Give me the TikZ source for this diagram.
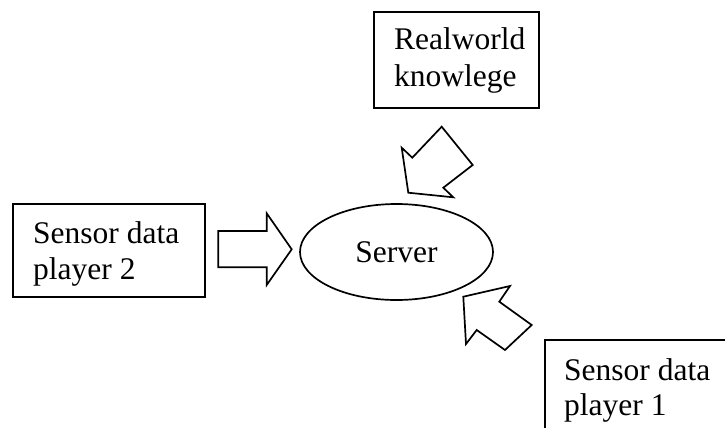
\documentclass[tikz,border=0pt]{standalone}
\usepackage{fontspec}
\setmainfont{Liberation Serif}
\usetikzlibrary{shapes.geometric}
\begin{document}
\begin{tikzpicture}[x=1pt,y=-1pt,
  lw/.style={line width=1.7pt, line join=miter},
  boxshape/.style={draw, lw, rectangle, inner sep=0pt, anchor=north west},
  txt/.style={font=\fontsize{31.5}{36}\selectfont, inner sep=0pt, anchor=base west},
  blockarrow/.style={draw, lw, fill=white}]
\useasboundingbox (0,0) rectangle (725,428);
\clip (0,0) rectangle (725,428);
% boxes
\node[boxshape, minimum width=192pt, minimum height=93pt] (p2box) at (12,203) {};
\node[txt] (p2a) at (33,243) {Sensor data};
\node[txt] (p2b) at (33,279) {player 2};
\node[boxshape, minimum width=165pt, minimum height=96pt] (rwbox) at (373,11) {};
\node[txt] (rwa) at (394,50) {Realworld};
\node[txt] (rwb) at (394,86.5) {knowlege};
\node[boxshape, minimum width=240pt, minimum height=140pt] (p1box) at (544,339) {};
\node[txt] (p1a) at (564,380) {Sensor data};
\node[txt] (p1b) at (564,415) {player 1};
% server
\node[draw, lw, ellipse, inner sep=0pt, minimum width=193pt, minimum height=96pt,
  font=\fontsize{31.5}{36}\selectfont] (server) at (396.5,252) {Server};
% block arrows
\draw[blockarrow] (218.3,231) -- (266.7,231) -- (266.7,213.3) -- (291.7,249.3)
  -- (266.7,285) -- (266.7,267.3) -- (218.3,267.3) -- cycle;
\draw[blockarrow] (401.7,147.7) -- (412.3,157.7) -- (441.7,126.7) -- (472.7,165)
  -- (443.3,187.7) -- (453.3,197.3) -- (408.3,192.7) -- cycle;
\draw[blockarrow] (463.3,296.7) -- (510,286) -- (499.3,301.7) -- (531.7,325)
  -- (505,350) -- (476.7,330) -- (466,344) -- cycle;
\end{tikzpicture}
\end{document}
